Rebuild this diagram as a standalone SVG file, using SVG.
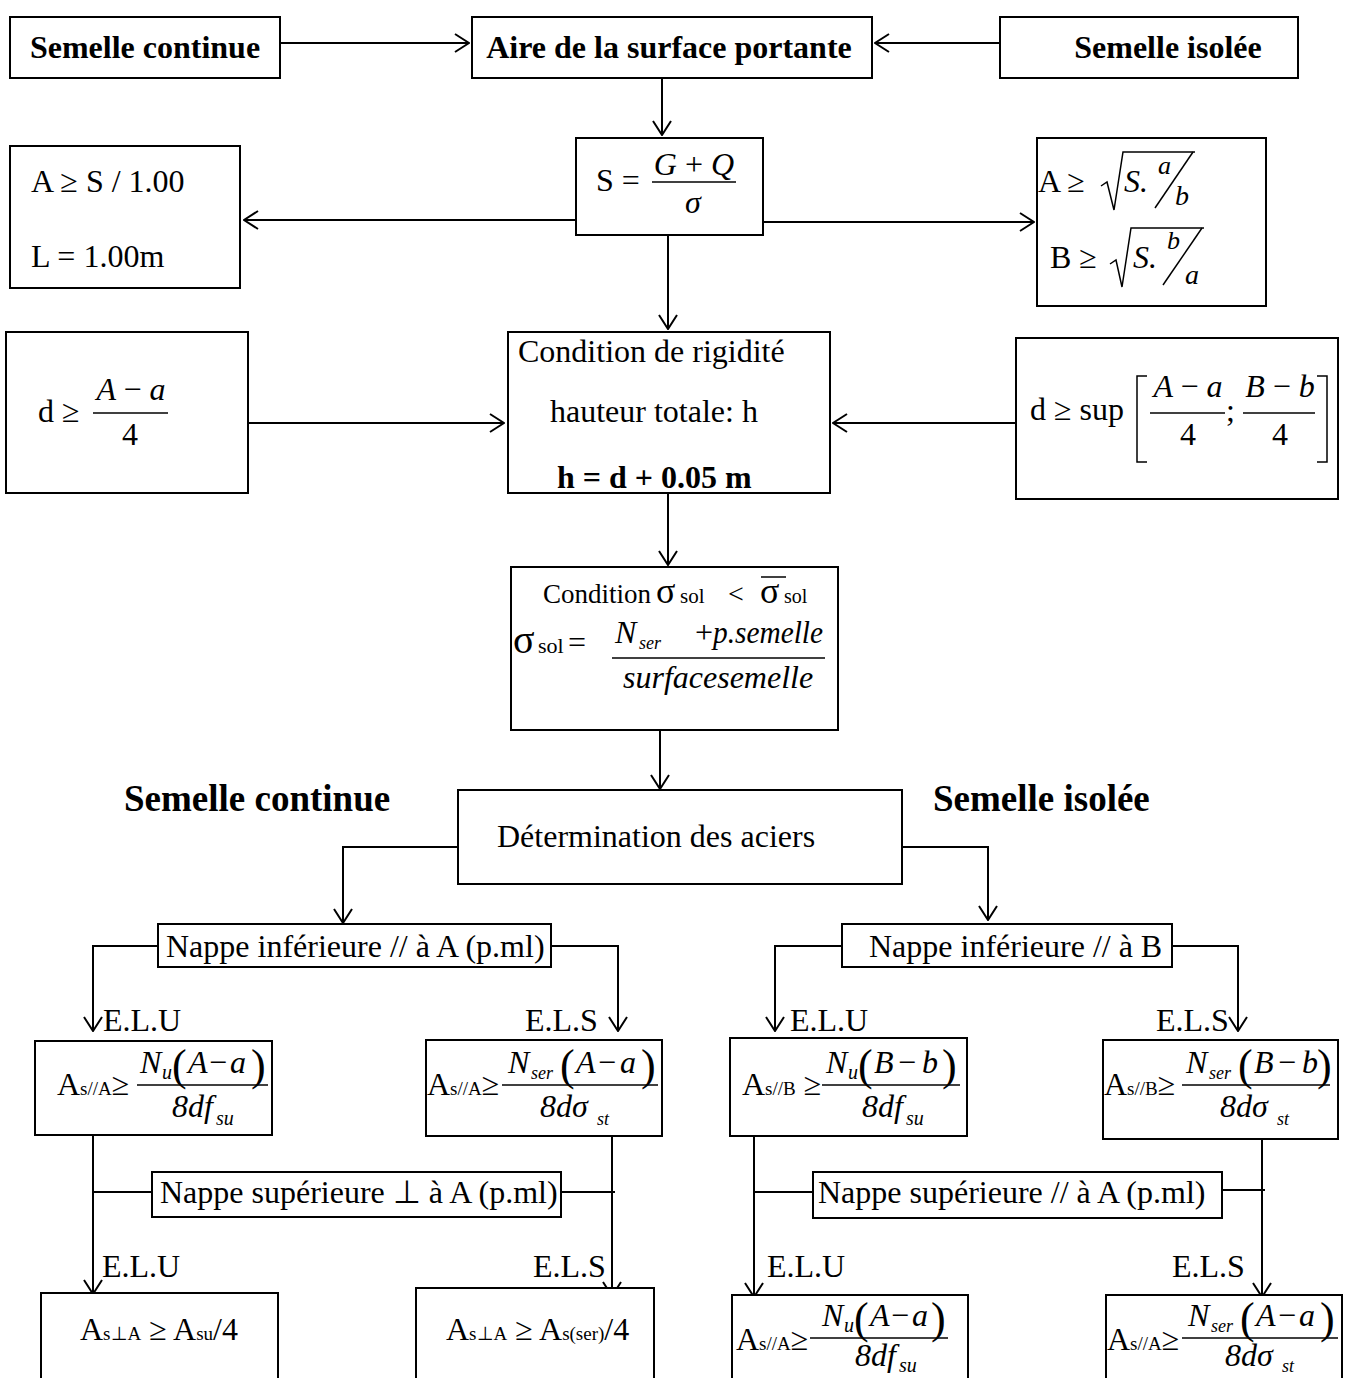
<svg xmlns="http://www.w3.org/2000/svg" width="1345" height="1378" viewBox="0 0 1345 1378">
<style>
.box{fill:#fff;stroke:#000;stroke-width:2}
.t{font-family:"Liberation Serif","Times New Roman",serif;font-size:32px;fill:#000}
.b{font-weight:bold}
.i{font-style:italic}
.n{font-style:normal}
.c{text-anchor:middle}
.s{font-size:19px}
.ss{font-size:18px}
.su{font-size:20px}
.h{font-size:37px}
.p{font-size:44px;font-style:normal}
.conn{stroke:#000;stroke-width:2;fill:none}
.fl{stroke:#000;stroke-width:1.5;fill:none}
</style>
<defs>
<marker id="arr" viewBox="0 0 16 20" refX="15" refY="10" markerWidth="16" markerHeight="20" markerUnits="userSpaceOnUse" orient="auto">
<path d="M1,1 L15,10 L1,19" fill="none" stroke="#000" stroke-width="2"/>
</marker>
</defs>
<rect width="1345" height="1378" fill="#fff"/>

<g id="connectors" class="conn">
<g marker-end="url(#arr)">
<line x1="280" y1="43" x2="469" y2="43"/>
<line x1="1000" y1="43" x2="875" y2="43"/>
<line x1="662" y1="78" x2="662" y2="135"/>
<line x1="576" y1="220" x2="244" y2="220"/>
<line x1="763" y1="222" x2="1034" y2="222"/>
<line x1="668" y1="235" x2="668" y2="329"/>
<line x1="248" y1="423" x2="504" y2="423"/>
<line x1="1016" y1="423" x2="833" y2="423"/>
<line x1="668" y1="493" x2="668" y2="565"/>
<line x1="660" y1="730" x2="660" y2="789"/>
<polyline points="458,847 343,847 343,923"/>
<polyline points="902,847 988,847 988,920"/>
<polyline points="158,946 93,946 93,1031"/>
<polyline points="551,946 618,946 618,1031"/>
<polyline points="842,946 775,946 775,1031"/>
<polyline points="1172,946 1238,946 1238,1031"/>
<line x1="93" y1="1135" x2="93" y2="1294"/>
<line x1="612" y1="1135" x2="612" y2="1296"/>
<line x1="754" y1="1135" x2="754" y2="1297"/>
<line x1="1262" y1="1135" x2="1262" y2="1297"/>
</g>
<line x1="93" y1="1192" x2="152" y2="1192"/>
<line x1="561" y1="1192" x2="615" y2="1192"/>
<line x1="754" y1="1192" x2="813" y2="1192"/>
<line x1="1222" y1="1190" x2="1265" y2="1190"/>
</g>

<g id="n-semelle-continue-top">
<rect class="box" x="10" y="17" width="270" height="61"/>
<text class="t b c" x="145" y="58">Semelle continue</text>
</g>
<g id="n-aire">
<rect class="box" x="472" y="17" width="400" height="61"/>
<text class="t b c" x="669" y="58">Aire de la surface portante</text>
</g>
<g id="n-semelle-isolee-top">
<rect class="box" x="1000" y="17" width="298" height="61"/>
<text class="t b c" x="1168" y="58">Semelle isolée</text>
</g>

<g id="n-S">
<rect class="box" x="576" y="138" width="187" height="97"/>
<text class="t" x="596" y="191">S =</text>
<text class="t c" x="694" y="175"><tspan class="i">G</tspan> + <tspan class="i">Q</tspan></text>
<line class="fl" x1="652" y1="182" x2="736" y2="182"/>
<text class="t i c" x="693" y="213">σ</text>
</g>

<g id="n-continue-A">
<rect class="box" x="10" y="146" width="230" height="142"/>
<text class="t" x="31" y="192">A ≥ S / 1.00</text>
<text class="t" x="31" y="267">L = 1.00m</text>
</g>

<g id="n-isolee-AB">
<rect class="box" x="1037" y="138" width="229" height="168"/>
<text class="t" x="1038" y="192">A ≥</text>
<path class="fl" d="M1101,186 L1107,182 L1114,210 L1123,152 L1195,152"/>
<text class="t i" x="1124" y="192">S.</text>
<text class="t i" x="1158" y="174" style="font-size:26px">a</text>
<line class="fl" x1="1193" y1="152" x2="1155" y2="208"/>
<text class="t i" x="1175" y="205" style="font-size:28px">b</text>
<text class="t" x="1050" y="268">B ≥</text>
<path class="fl" d="M1110,264 L1116,260 L1122,287 L1131,228 L1204,228"/>
<text class="t i" x="1133" y="268">S.</text>
<text class="t i" x="1167" y="249" style="font-size:26px">b</text>
<line class="fl" x1="1202" y1="228" x2="1163" y2="285"/>
<text class="t i" x="1185" y="284" style="font-size:28px">a</text>
</g>

<g id="n-d-continue">
<rect class="box" x="6" y="332" width="242" height="161"/>
<text class="t" x="38" y="422">d ≥</text>
<text class="t i c" x="131" y="400">A <tspan class="n">−</tspan> a</text>
<line class="fl" x1="93" y1="413" x2="168" y2="413"/>
<text class="t c" x="130" y="445">4</text>
</g>

<g id="n-rigidite">
<rect class="box" x="508" y="332" width="322" height="161"/>
<text class="t" x="518" y="362">Condition de rigidité</text>
<text class="t" x="550" y="422">hauteur totale: h</text>
<text class="t b" x="557" y="488">h = d + 0.05 m</text>
</g>

<g id="n-d-isolee">
<rect class="box" x="1016" y="338" width="322" height="161"/>
<text class="t" x="1030" y="420">d ≥ sup</text>
<path class="fl" d="M1147,376 L1137,376 L1137,462 L1147,462"/>
<text class="t i c" x="1188" y="397">A <tspan class="n">−</tspan> a</text>
<line class="fl" x1="1150" y1="413" x2="1225" y2="413"/>
<text class="t c" x="1188" y="445">4</text>
<text class="t" x="1226" y="421">;</text>
<text class="t i c" x="1280" y="397">B <tspan class="n">−</tspan> b</text>
<line class="fl" x1="1243" y1="413" x2="1315" y2="413"/>
<text class="t c" x="1280" y="445">4</text>
<path class="fl" d="M1317,376 L1327,376 L1327,462 L1317,462"/>
</g>

<g id="n-sigma">
<rect class="box" x="511" y="567" width="327" height="163"/>
<text class="t" x="543" y="603" style="font-size:27px">Condition</text>
<text class="t" x="656" y="603" style="font-size:36px">σ</text>
<text class="t" x="680" y="603" style="font-size:21px">sol</text>
<text class="t" x="728" y="603" style="font-size:28px">&lt;</text>
<text class="t" x="760" y="603" style="font-size:36px">σ</text>
<line class="fl" x1="761" y1="577" x2="786" y2="577"/>
<text class="t" x="784" y="603" style="font-size:20px">sol</text>
<text class="t" x="513" y="653" style="font-size:40px">σ</text>
<text class="t" x="538" y="653" style="font-size:22px">sol</text>
<text class="t" x="568" y="653">=</text>
<text class="t i" x="615" y="643">N</text>
<text class="t i ss" x="639" y="649">ser</text>
<text class="t" x="695" y="643">+</text>
<text class="t i" x="713" y="643" textLength="110" lengthAdjust="spacingAndGlyphs">p.semelle</text>
<line class="fl" x1="612" y1="658" x2="825" y2="658"/>
<text class="t i" x="623" y="688">surfacesemelle</text>
</g>

<g id="h-continue"><text class="t b h" x="124" y="811">Semelle continue</text></g>
<g id="h-isolee"><text class="t b h" x="933" y="811">Semelle isolée</text></g>

<g id="n-aciers">
<rect class="box" x="458" y="790" width="444" height="94"/>
<text class="t" x="497" y="847">Détermination des aciers</text>
</g>

<g id="n-nappe-inf-A">
<rect class="box" x="158" y="924" width="393" height="43"/>
<text class="t" x="166" y="957">Nappe inférieure // à A (p.ml)</text>
</g>
<g id="n-nappe-inf-B">
<rect class="box" x="842" y="924" width="330" height="43"/>
<text class="t" x="869" y="957">Nappe inférieure // à B</text>
</g>

<g id="labels-1">
<text class="t" x="103" y="1031">E.L.U</text>
<text class="t" x="525" y="1031">E.L.S</text>
<text class="t" x="790" y="1031">E.L.U</text>
<text class="t" x="1156" y="1031">E.L.S</text>
</g>

<g id="n-elu-A">
<rect class="box" x="35" y="1041" width="237" height="94"/>
<text class="t" x="57" y="1095">A<tspan class="s">s//A</tspan>≥</text>
<line class="fl" x1="137" y1="1085" x2="268" y2="1085"/>
<text class="t i" x="140" y="1073">N</text>
<text class="t i su" x="162" y="1079">u</text>
<text class="t p" x="172" y="1080">(</text>
<text class="t i" y="1073"><tspan x="188">A</tspan><tspan class="n" x="209">−</tspan><tspan x="230">a</tspan></text>
<text class="t p" x="251" y="1080">)</text>
<text class="t i" x="172" y="1117">8df</text>
<text class="t i su" x="216" y="1125">su</text>
</g>

<g id="n-els-A">
<rect class="box" x="426" y="1040" width="236" height="96"/>
<text class="t" x="427" y="1095">A<tspan class="s">s//A</tspan>≥</text>
<line class="fl" x1="502" y1="1085" x2="658" y2="1085"/>
<text class="t i" x="508" y="1073">N</text>
<text class="t i ss" x="531" y="1079">ser</text>
<text class="t p" x="560" y="1080">(</text>
<text class="t i" y="1073"><tspan x="576">A</tspan><tspan class="n" x="598">−</tspan><tspan x="620">a</tspan></text>
<text class="t p" x="641" y="1080">)</text>
<text class="t i" x="540" y="1117">8dσ</text>
<text class="t i ss" x="597" y="1125">st</text>
</g>

<g id="n-elu-B">
<rect class="box" x="730" y="1038" width="237" height="98"/>
<text class="t" x="742" y="1095">A<tspan class="s">s//B</tspan> ≥</text>
<line class="fl" x1="822" y1="1085" x2="960" y2="1085"/>
<text class="t i" x="826" y="1073">N</text>
<text class="t i su" x="848" y="1079">u</text>
<text class="t p" x="858" y="1080">(</text>
<text class="t i" y="1073"><tspan x="874">B</tspan><tspan class="n" x="898">−</tspan><tspan x="922">b</tspan></text>
<text class="t p" x="942" y="1080">)</text>
<text class="t i" x="862" y="1117">8df</text>
<text class="t i su" x="906" y="1125">su</text>
</g>

<g id="n-els-B">
<rect class="box" x="1103" y="1040" width="235" height="99"/>
<text class="t" x="1104" y="1095">A<tspan class="s">s//B</tspan>≥</text>
<line class="fl" x1="1182" y1="1085" x2="1330" y2="1085"/>
<text class="t i" x="1186" y="1073">N</text>
<text class="t i ss" x="1209" y="1079">ser</text>
<text class="t p" x="1238" y="1080">(</text>
<text class="t i" y="1073"><tspan x="1254">B</tspan><tspan class="n" x="1278">−</tspan><tspan x="1302">b</tspan></text>
<text class="t p" x="1317" y="1080">)</text>
<text class="t i" x="1220" y="1117">8dσ</text>
<text class="t i ss" x="1277" y="1125">st</text>
</g>

<g id="n-nappe-sup-perp">
<rect class="box" x="152" y="1172" width="409" height="45"/>
<text class="t" x="160" y="1203">Nappe supérieure ⊥ à A (p.ml)</text>
</g>
<g id="n-nappe-sup-par">
<rect class="box" x="813" y="1172" width="409" height="46"/>
<text class="t" x="818" y="1203">Nappe supérieure // à A (p.ml)</text>
</g>

<g id="labels-2">
<text class="t" x="102" y="1277">E.L.U</text>
<text class="t" x="533" y="1277">E.L.S</text>
<text class="t" x="767" y="1277">E.L.U</text>
<text class="t" x="1172" y="1277">E.L.S</text>
</g>

<g id="n-perp-elu">
<rect class="box" x="41" y="1293" width="237" height="95"/>
<text class="t" x="80" y="1340">A<tspan class="s">s⊥A</tspan> ≥ A<tspan class="s">su</tspan>/4</text>
</g>
<g id="n-perp-els">
<rect class="box" x="416" y="1288" width="238" height="100"/>
<text class="t" x="446" y="1340">A<tspan class="s">s⊥A</tspan> ≥ A<tspan class="s">s(ser)</tspan>/4</text>
</g>

<g id="n-par-elu">
<rect class="box" x="732" y="1295" width="236" height="93"/>
<text class="t" x="736" y="1350">A<tspan class="s">s//A</tspan>≥</text>
<line class="fl" x1="810" y1="1338" x2="948" y2="1338"/>
<text class="t i" x="822" y="1326">N</text>
<text class="t i su" x="844" y="1332">u</text>
<text class="t p" x="854" y="1333">(</text>
<text class="t i" y="1326"><tspan x="870">A</tspan><tspan class="n" x="891">−</tspan><tspan x="912">a</tspan></text>
<text class="t p" x="931" y="1333">)</text>
<text class="t i" x="855" y="1366">8df</text>
<text class="t i su" x="899" y="1372">su</text>
</g>
<g id="n-par-els">
<rect class="box" x="1106" y="1295" width="236" height="93"/>
<text class="t" x="1107" y="1350">A<tspan class="s">s//A</tspan>≥</text>
<line class="fl" x1="1182" y1="1338" x2="1338" y2="1338"/>
<text class="t i" x="1188" y="1326">N</text>
<text class="t i ss" x="1211" y="1332">ser</text>
<text class="t p" x="1240" y="1333">(</text>
<text class="t i" y="1326"><tspan x="1256">A</tspan><tspan class="n" x="1278">−</tspan><tspan x="1299">a</tspan></text>
<text class="t p" x="1320" y="1333">)</text>
<text class="t i" x="1225" y="1366">8dσ</text>
<text class="t i ss" x="1282" y="1372">st</text>
</g>
</svg>
